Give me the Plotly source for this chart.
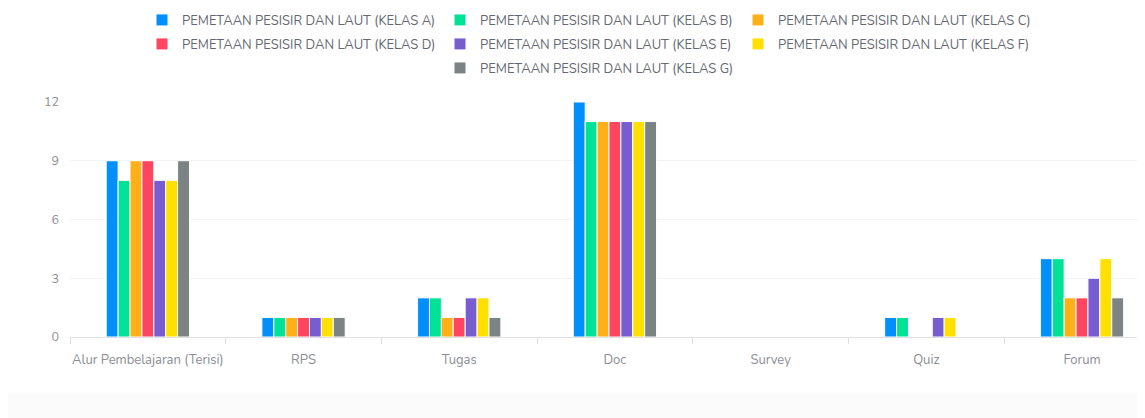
import plotly.graph_objects as go

categories = ["Alur Pembelajaran (Terisi)", "RPS", "Tugas", "Doc", "Survey", "Quiz", "Forum"]
series_names = [
    "PEMETAAN PESISIR DAN LAUT (KELAS A)",
    "PEMETAAN PESISIR DAN LAUT (KELAS B)",
    "PEMETAAN PESISIR DAN LAUT (KELAS C)",
    "PEMETAAN PESISIR DAN LAUT (KELAS D)",
    "PEMETAAN PESISIR DAN LAUT (KELAS E)",
    "PEMETAAN PESISIR DAN LAUT (KELAS F)",
    "PEMETAAN PESISIR DAN LAUT (KELAS G)",
]
kelas_a = [9, 1, 2, 12, 0, 1, 4]
kelas_b = [8, 1, 2, 11, 0, 1, 4]
kelas_c = [9, 1, 1, 11, 0, 0, 2]
kelas_d = [9, 1, 1, 11, 0, 0, 2]
kelas_e = [8, 1, 2, 11, 0, 1, 3]
kelas_f = [8, 1, 2, 11, 0, 1, 4]
kelas_g = [9, 1, 1, 11, 0, 0, 2]
series_values = [kelas_a, kelas_b, kelas_c, kelas_d, kelas_e, kelas_f, kelas_g]
colors = ["#008FFB", "#00E396", "#FEB019", "#FF4560", "#775DD0", "#FFE000", "#7B8385"]
legend_rows = ["legend", "legend", "legend", "legend2", "legend2", "legend2", "legend3"]
y_ticks = [0, 3, 6, 9, 12]

fig = go.Figure()
for name, vals, col, lg in zip(series_names, series_values, colors, legend_rows):
    fig.add_trace(go.Bar(
        x=categories, y=vals, name=name, legend=lg,
        marker=dict(color=col, line=dict(color="#ffffff", width=1)),
    ))

W, H, OFF = 1145, 418, 8
legend_font = dict(size=13, color="#656870")


def legend_at(left_px, center_py):
    return dict(
        orientation="h", xref="container", yref="container",
        x=(left_px - OFF) / W, xanchor="left",
        y=1 - (center_py - OFF) / H, yanchor="middle",
        entrywidth=253, entrywidthmode="pixels",
        font=legend_font, bgcolor="rgba(0,0,0,0)", borderwidth=0,
    )


fig.update_layout(
    width=W, height=H,
    barmode="group", bargap=0.465, bargroupgap=0.0,
    paper_bgcolor="#ffffff", plot_bgcolor="#ffffff",
    margin=dict(l=62, r=0, t=93, b=89, autoexpand=False),
    font=dict(family="Nunito, Lato, 'Open Sans', sans-serif", size=12, color="#777a80"),
    showlegend=True,
    legend=legend_at(142, 20),
    legend2=legend_at(142, 44),
    legend3=legend_at(440, 68),
    xaxis=dict(
        range=[-0.5, 6.456], showgrid=False, tickson="boundaries",
        ticks="outside", ticklen=6, tickcolor="#e0e0e0", tickangle=0,
        showline=True, linecolor="#e0e0e0", linewidth=1, ticklabelstandoff=10,
        tickfont=dict(size=13, color="#8a8d93"), fixedrange=True,
    ),
    yaxis=dict(
        range=[0, 12.05], tickvals=y_ticks, showgrid=True, gridcolor="#f3f3f3",
        zeroline=False, showline=False, ticks="", ticklabelstandoff=10,
        tickfont=dict(size=12.5, color="#8a8d93"),
    ),
    shapes=[dict(type="rect", xref="paper", yref="paper", x0=-0.07, x1=1.0,
                 y0=-0.38, y1=-0.235, fillcolor="#fbfbfb", line=dict(width=0), layer="below")],
)
fig.write_html("out.html")
